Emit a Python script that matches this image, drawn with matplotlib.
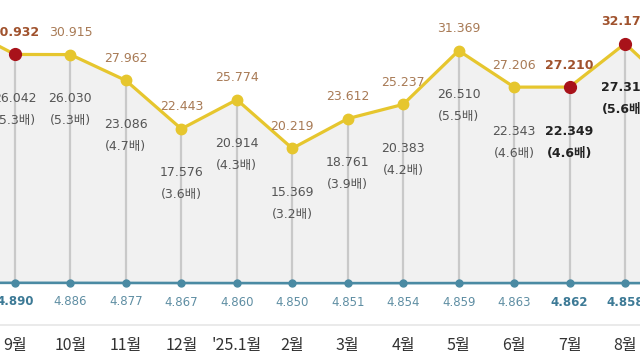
import numpy as np
import matplotlib
matplotlib.use("Agg")
import matplotlib.pyplot as plt

# DejaVu for the digits (wide, thin), Noto CJK for the Korean glyphs
plt.rcParams['font.family'] = ['DejaVu Sans', 'Noto Sans CJK KR']

# months shown
months = ["9월", "10월", "11월", "12월", "'25.1월", "2월", "3월", "4월", "5월", "6월", "7월", "8월"]
# top series (yellow), plus estimated neighbours just outside the frame
top_vals = [30.932, 30.915, 27.962, 22.443, 25.774, 20.219, 23.612, 25.237, 31.369, 27.206, 27.210, 32.172]
top_prev, top_next = 34.2, 26.3
# middle labels (difference) and ratio
mid_vals = [26.042, 26.030, 23.086, 17.576, 20.914, 15.369, 18.761, 20.383, 26.510, 22.343, 22.349, 27.314]
ratios = [5.3, 5.3, 4.7, 3.6, 4.3, 3.2, 3.9, 4.2, 5.5, 4.6, 4.6, 5.6]
# bottom series (blue)
base_vals = [4.890, 4.886, 4.877, 4.867, 4.860, 4.850, 4.851, 4.854, 4.859, 4.863, 4.862, 4.858]
highlight = [0, 10, 11]
mid_highlight = [10, 11]

YEL = '#e6c62e'
RED = '#a8121a'
BLUE = '#4a8aa3'
GRAY_LINE = '#c9c9c9'
FILL = '#f1f1f1'
TOP_TXT = '#a87a55'
TOP_BOLD = '#a0522d'
MID_TXT = '#555555'
MID_BOLD = '#222222'
BLUE_TXT = '#5f8ea3'
BLUE_BOLD = '#3d7a96'

fig = plt.figure(figsize=(6.4, 3.6), dpi=100)
ax = fig.add_axes([0, 0, 1, 1])
ax.set_xlim(-0.27, 11.27)
ax.set_ylim(-3.91, 37.14)
ax.axis('off')

x = np.arange(len(months))
xe = np.arange(-1, len(months) + 1)
ye = np.array([top_prev] + top_vals + [top_next])
base_ext = np.array([base_vals[0]] + base_vals + [base_vals[-1]])

# grey area between yellow line and blue line
ax.fill_between(xe, base_ext, ye, color=FILL, zorder=1)

# vertical stems
for i in x:
    ax.plot([i, i], [base_vals[i], top_vals[i]], color=GRAY_LINE, lw=1.6, zorder=2)

# blue line
ax.plot(xe, base_ext, color=BLUE, lw=1.9, zorder=3)
ax.plot(x, base_vals, 'o', color=BLUE, ms=5, zorder=4)

# yellow line
ax.plot(xe, ye, color=YEL, lw=2.3, zorder=3)
for i in x:
    if i in highlight:
        ax.plot(i, top_vals[i], 'o', color=RED, ms=8.5, zorder=5)
    else:
        ax.plot(i, top_vals[i], 'o', color=YEL, ms=7.5, zorder=5)

# separator line above month labels
ax.axhline(0.05, color='#e6e6e6', lw=1.2, zorder=1)

px = 1 / 8.77  # one pixel in data units
for i in x:
    hl = i in highlight
    mh = i in mid_highlight
    ax.text(i, top_vals[i] + 22 * px, f"{top_vals[i]:.3f}", ha='center', va='center',
            fontsize=9, color=TOP_BOLD if hl else TOP_TXT,
            fontweight='bold' if hl else 'normal', zorder=6)
    ax.text(i, top_vals[i] - 44 * px, f"{mid_vals[i]:.3f}", ha='center', va='center',
            fontsize=9, color=MID_BOLD if mh else MID_TXT,
            fontweight='bold' if mh else 'normal', zorder=6)
    ax.text(i, top_vals[i] - 66 * px, f"({ratios[i]:.1f}배)", ha='center', va='center',
            fontsize=9, color=MID_BOLD if mh else MID_TXT,
            fontweight='bold' if mh else 'normal', zorder=6)
    ax.text(i, base_vals[i] - 19 * px, f"{base_vals[i]:.3f}", ha='center', va='center',
            fontsize=8.5, color=BLUE_BOLD if hl else BLUE_TXT,
            fontweight='bold' if hl else 'normal', zorder=6)
    ax.text(i, -2.2, months[i], ha='center', va='center', fontsize=11.5,
            color='#333333', family='Noto Sans CJK KR', zorder=6)

fig.savefig('out.png', dpi=100)
